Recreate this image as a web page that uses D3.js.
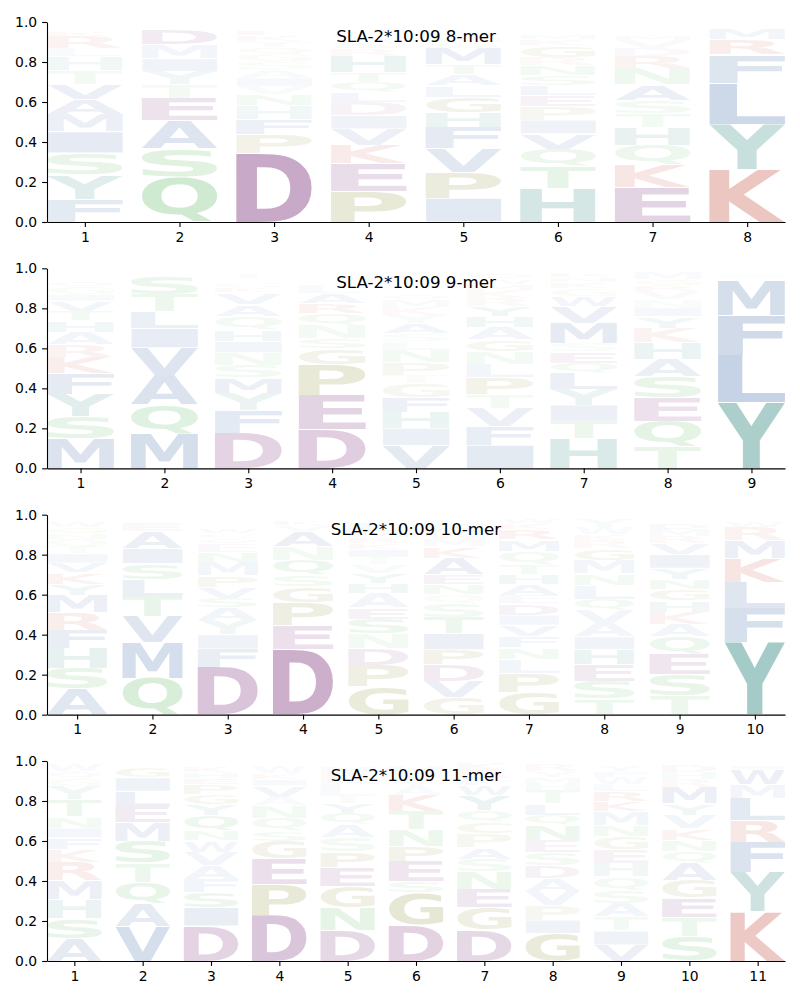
<!DOCTYPE html>
<html>
<head>
<meta charset="utf-8">
<script src="https://cdn.jsdelivr.net/npm/d3@7/dist/d3.min.js"></script>
<style>
  body { margin: 0; background: #fff; }
  .tick text { font-family: "DejaVu Sans", sans-serif; font-size: 13.9px; fill: #000; }
  .title { font-family: "DejaVu Sans", sans-serif; font-size: 16.7px; }
</style>
</head>
<body>
<script>
// letter frequencies per position, read bottom -> top of each stack
var titles = ["SLA-2*10:09 8-mer", "SLA-2*10:09 9-mer", "SLA-2*10:09 10-mer", "SLA-2*10:09 11-mer"];

var mer8 = [
  [["F",.115],["Y",.123],["S",.108],["I",.105],["M",.088],["A",.075],["V",.075],["T",.07],["H",.067],["L",.04],["R",.06],["K",.025],["N",.02],["Q",.015]],
  [["Q",.227],["S",.142],["A",.137],["E",.113],["T",.067],["Y",.067],["I",.063],["M",.07],["D",.075],["N",.015],["R",.015]],
  [["D",.343],["P",.093],["F",.075],["H",.07],["N",.058],["V",.04],["I",.04],["A",.045],["S",.04],["G",.035],["Q",.035],["T",.03],["K",.03],["E",.025],["W",.02],["R",.013]],
  [["P",.155],["E",.137],["K",.093],["V",.08],["I",.067],["D",.068],["L",.05],["Q",.05],["T",.05],["H",.08],["R",.035],["S",.03],["A",.025],["G",.025],["N",.02]],
  [["I",.118],["P",.128],["V",.12],["F",.105],["H",.075],["G",.077],["L",.058],["A",.058],["T",.05],["M",.08],["S",.03],["N",.025],["Q",.025],["K",.02]],
  [["H",.168],["T",.11],["Q",.087],["V",.077],["I",.067],["P",.067],["E",.055],["L",.05],["S",.05],["N",.05],["R",.04],["G",.06],["K",.03],["M",.025],["A",.02],["F",.015]],
  [["E",.172],["K",.117],["Q",.095],["H",.087],["T",.072],["S",.067],["A",.077],["N",.08],["R",.06],["D",.04],["V",.04],["M",.025],["L",.02],["Y",.02]],
  [["K",.263],["Y",.223],["L",.208],["F",.142],["R",.075],["M",.055],["W",.01]]
];

var mer9 = [
  [["M",.148],["S",.11],["Y",.113],["F",.103],["K",.083],["R",.063],["A",.06],["H",.057],["T",.05],["V",.05],["I",.033],["G",.035],["Q",.03],["N",.02],["L",.015]],
  [["M",.173],["Q",.147],["A",.147],["V",.137],["I",.095],["L",.083],["T",.087],["S",.09],["G",.02]],
  [["D",.177],["F",.112],["Y",.087],["M",.078],["S",.062],["N",.063],["I",.055],["H",.058],["Q",.07],["A",.058],["V",.058],["K",.025],["G",.025],["W",.02],["T",.023]],
  [["D",.195],["E",.172],["P",.153],["G",.08],["S",.05],["N",.067],["Q",.058],["R",.05],["A",.05],["L",.04],["K",.02],["V",.02],["T",.02]],
  [["V",.115],["I",.085],["H",.08],["F",.075],["G",.07],["T",.04],["P",.065],["N",.06],["L",.045],["S",.04],["A",.05],["Y",.04],["K",.04],["M",.035],["Q",.03],["R",.02]],
  [["I",.115],["F",.093],["V",.092],["T",.07],["P",.085],["L",.067],["N",.063],["G",.058],["A",.06],["H",.058],["Y",.05],["R",.04],["K",.04],["M",.03],["W",.025],["Q",.03]],
  [["H",.148],["T",.088],["I",.08],["Y",.08],["L",.08],["Q",.05],["E",.058],["S",.042],["M",.1],["V",.083],["W",.05],["G",.04],["K",.03],["N",.025],["R",.022]],
  [["T",.107],["Q",.128],["E",.12],["S",.105],["A",.087],["H",.083],["K",.072],["Y",.058],["I",.042],["N",.042],["V",.04],["R",.03],["G",.03],["M",.035]],
  [["Y",.33],["L",.237],["F",.197],["M",.172],["W",.02],["I",.015]]
];

var mer10 = [
  [["A",.128],["S",.103],["H",.098],["F",.092],["R",.088],["M",.087],["Y",.055],["K",.058],["V",.05],["I",.045],["T",.033],["Q",.04],["N",.03],["G",.03],["W",.03]],
  [["Q",.183],["M",.177],["V",.133],["T",.1],["L",.083],["S",.08],["I",.075],["A",.083],["E",.045],["K",.02]],
  [["D",.237],["F",.092],["I",.07],["Y",.072],["A",.062],["S",.05],["V",.055],["P",.058],["M",.067],["N",.05],["E",.04],["Q",.03],["G",.025],["W",.025],["K",.02],["R",.02]],
  [["D",.325],["E",.123],["P",.113],["G",.078],["S",.058],["Q",.075],["N",.067],["A",.075],["V",.03],["K",.025]],
  [["G",.14],["P",.108],["D",.083],["N",.072],["S",.075],["E",.058],["A",.072],["H",.05],["Y",.05],["V",.042],["T",.04],["I",.035],["K",.03],["R",.03],["M",.03],["L",.04]],
  [["G",.087],["V",.08],["D",.083],["P",.075],["I",.08],["T",.08],["S",.072],["Q",.042],["N",.05],["E",.05],["A",.083],["K",.058],["M",.035],["W",.035],["H",.035],["L",.03]],
  [["G",.112],["P",.095],["L",.07],["N",.058],["F",.058],["V",.055],["I",.05],["D",.058],["E",.042],["A",.053],["H",.05],["T",.05],["Q",.067],["M",.058],["R",.05],["K",.03],["W",.025]],
  [["T",.078],["S",.09],["E",.083],["H",.075],["I",.063],["A",.067],["V",.066],["Q",.055],["L",.07],["N",.058],["M",.067],["G",.058],["R",.04],["K",.03],["W",.035],["Y",.04]],
  [["T",.095],["S",.107],["E",.1],["Q",.087],["A",.063],["K",.06],["H",.058],["G",.055],["N",.05],["Y",.058],["I",.067],["V",.058],["R",.035],["M",.035],["D",.03]],
  [["Y",.36],["F",.17],["L",.133],["K",.12],["M",.087],["R",.067],["W",.03]]
];

var mer11 = [
  [["A",.113],["S",.1],["H",.097],["M",.092],["R",.092],["K",.063],["F",.058],["I",.05],["N",.058],["T",.083],["Y",.067],["G",.04],["Q",.035],["W",.035]],
  [["V",.172],["A",.112],["Q",.108],["T",.097],["S",.11],["M",.092],["E",.083],["L",.075],["I",.067],["G",.053]],
  [["D",.175],["I",.092],["S",.075],["F",.067],["A",.067],["V",.067],["W",.058],["N",.05],["Q",.075],["Y",.058],["G",.05],["P",.05],["E",.03],["H",.03],["K",.03]],
  [["D",.23],["P",.153],["E",.127],["G",.088],["S",.053],["Q",.063],["N",.063],["A",.042],["V",.058],["I",.03],["K",.03],["W",.035]],
  [["D",.155],["N",.113],["G",.105],["E",.095],["P",.078],["S",.073],["A",.063],["Q",.058],["Y",.05],["T",.04],["L",.04],["F",.04],["R",.035],["M",.03]],
  [["D",.18],["G",.162],["S",.058],["E",.1],["P",.075],["N",.083],["T",.092],["K",.08],["A",.04],["Y",.035],["V",.035],["H",.035]],
  [["D",.155],["G",.113],["E",.092],["N",.087],["S",.063],["A",.058],["P",.067],["C",.058],["Q",.058],["Y",.075],["W",.05],["F",.04],["R",.035],["K",.035]],
  [["G",.138],["I",.067],["P",.072],["V",.073],["A",.063],["D",.063],["S",.067],["E",.06],["N",.075],["Q",.05],["L",.058],["T",.067],["H",.035],["M",.03],["Y",.03],["R",.033]],
  [["V",.08],["I",.07],["T",.072],["A",.067],["S",.062],["Q",.07],["H",.067],["E",.067],["G",.067],["N",.058],["M",.067],["K",.05],["R",.05],["L",.035],["W",.035],["F",.03],["Y",.03]],
  [["S",.122],["T",.097],["E",.097],["G",.088],["A",.087],["Q",.058],["N",.055],["K",.058],["V",.067],["Y",.058],["M",.083],["R",.04],["H",.035],["D",.035]],
  [["K",.247],["Y",.197],["F",.15],["R",.108],["L",.113],["M",.067],["W",.075],["I",.02]]
];

var panels = [mer8, mer9, mer10, mer11];

// residue colour groups
var colours = {
  A: "#3763a3", V: "#3763a3", I: "#3763a3", L: "#3763a3", M: "#3763a3", F: "#3763a3", W: "#3763a3",
  Y: "#2e867f", H: "#2e867f",
  K: "#c34b3e", R: "#c34b3e",
  D: "#7a307a", E: "#7a307a",
  S: "#4cb050", T: "#4cb050", N: "#4cb050", Q: "#4cb050",
  P: "#86862a", G: "#86862a", C: "#86862a"
};

var width = 800, height = 1000;
var left = 47, right = 785, plotH = 200, firstTop = 22, step = 246.33;

var svg = d3.select("body").append("svg")
    .attr("width", width)
    .attr("height", height);

// measure glyph ink so each letter can be stretched to its box
var FS = 200;
var ctx = document.createElement("canvas").getContext("2d");
ctx.font = "bold " + FS + "px 'DejaVu Sans'";
var inkCache = {};
function ink(ch) {
    if (!inkCache[ch]) {
        var m = ctx.measureText(ch);
        inkCache[ch] = {
            x0: -m.actualBoundingBoxLeft, x1: m.actualBoundingBoxRight,
            y0: -m.actualBoundingBoxAscent, y1: m.actualBoundingBoxDescent
        };
    }
    return inkCache[ch];
}

panels.forEach(function (data, pi) {
    var n = data.length;
    var top = firstTop + pi * step;

    var x = d3.scaleLinear().domain([0.6, n + 0.4]).range([left, right]);
    var y = d3.scaleLinear().domain([0, 1]).range([top + plotH, top]);

    var g = svg.append("g");

    // letters
    data.forEach(function (stack, i) {
        var pos = i + 1;
        var base = 0;
        stack.forEach(function (d) {
            var ch = d[0], f = d[1];
            var bx0 = x(pos - 0.4), bx1 = x(pos + 0.4);
            var by0 = y(base + f), by1 = y(base);
            base += f;
            var pad = 0.4;
            var bw = bx1 - bx0, bh = (by1 - by0) - 2 * pad;
            if (bh <= 0) return;
            var m = ink(ch);
            var sx = bw / (m.x1 - m.x0), sy = bh / (m.y1 - m.y0);
            g.append("text")
                .attr("x", 0).attr("y", 0)
                .attr("font-family", "DejaVu Sans")
                .attr("font-weight", "bold")
                .attr("font-size", FS)
                .attr("fill", colours[ch])
                .attr("fill-opacity", Math.min(1, f * 1.2))
                .attr("transform", "translate(" + bx0 + "," + (by0 + pad) + ") scale(" + sx + "," + sy + ") translate(" + (-m.x0) + "," + (-m.y0) + ")")
                .text(ch);
        });
    });

    // axes
    var xAxis = d3.axisBottom(x)
        .tickValues(d3.range(1, n + 1))
        .tickFormat(d3.format("d"))
        .tickSize(4.9).tickPadding(4.9).tickSizeOuter(0);
    g.append("g")
        .attr("transform", "translate(0," + (top + plotH) + ")")
        .call(xAxis);

    var yAxis = d3.axisLeft(y)
        .tickValues([0, 0.2, 0.4, 0.6, 0.8, 1.0])
        .tickFormat(d3.format(".1f"))
        .tickSize(4.9).tickPadding(4.9).tickSizeOuter(0);
    g.append("g")
        .attr("transform", "translate(" + left + ",0)")
        .call(yAxis);

    g.selectAll(".domain, .tick line").attr("stroke", "#000").attr("stroke-width", 1.1);
    g.selectAll(".tick text").attr("font-family", null).attr("font-size", null);

    g.append("text")
        .attr("class", "title")
        .attr("x", (left + right) / 2)
        .attr("y", top + 20)
        .attr("text-anchor", "middle")
        .text(titles[pi]);
});
</script>
</body>
</html>
